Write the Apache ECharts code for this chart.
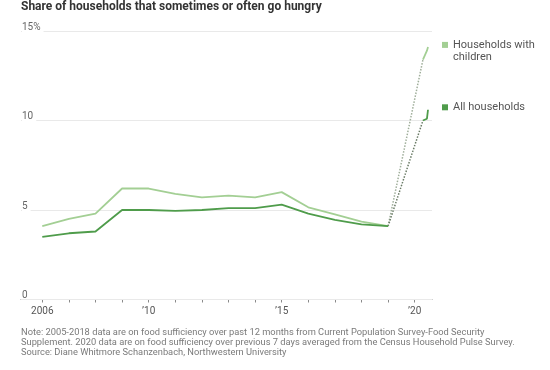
<!DOCTYPE html>
<html>
<head>
<meta charset="utf-8">
<script src="https://cdn.jsdelivr.net/npm/echarts@6/dist/echarts.min.js"></script>
<style>html,body{margin:0;padding:0;background:#fff}#c{width:550px;height:370px}</style>
</head>
<body>
<div id="c"></div>
<script>
var titleText = 'Share of households that sometimes or often go hungry';
var noteText = 'Note: 2005-2018 data are on food sufficiency over past 12 months from Current Population Survey-Food Security\nSupplement. 2020 data are on food sufficiency over previous 7 days averaged from the Census Household Pulse Survey.\nSource: Diane Whitmore Schanzenbach, Northwestern University';
var seriesNames = ['Households with children', 'All households'];
var legendLines = [['Households with', 'children'], ['All households']];

var years = [2006, 2007, 2008, 2009, 2010, 2011, 2012, 2013, 2014, 2015, 2016, 2017, 2018, 2019];
var childrenAnnual = [4.1, 4.5, 4.8, 6.2, 6.2, 5.9, 5.7, 5.8, 5.7, 6.0, 5.15, 4.75, 4.35, 4.1];
var allAnnual = [3.5, 3.7, 3.8, 5.0, 5.0, 4.95, 5.0, 5.1, 5.1, 5.3, 4.8, 4.45, 4.2, 4.1];

var pulseX = [2020.31, 2020.46, 2020.50];
var childrenPulse = [13.4, 13.9, 14.1];
var allPulse = [10.0, 10.1, 10.6];

var xTickValues = [2006, 2007, 2008, 2009, 2010, 2011, 2012, 2013, 2014, 2015, 2016, 2017, 2018, 2019, 2020];
var xLabelValues = [2006, 2010, 2015, 2020];
var xLabelText = {2006: '2006', 2010: '\u201910', 2015: '\u201915', 2020: '\u201920'};
var yLabelText = {0: '0', 5: '5', 10: '10', 15: '15%'};

var colChild = '#a3cf94';
var colAll = '#4f9c4b';
var dotChild = '#9fae9a';
var dotAll = '#6b7c67';

function pairs(xs, ys) { return xs.map(function (x, i) { return [x, ys[i]]; }); }

var chart = echarts.init(document.getElementById('c'));
var FONT = 'Roboto';
var LH = 12.6;
chart.setOption({
  animation: false,
  textStyle: { fontFamily: FONT },
  title: [
    { text: titleText, left: 21, top: 1, padding: 0,
      textStyle: { fontFamily: FONT, fontSize: 12, fontWeight: 'bold', color: '#333' } },
    { text: noteText, left: 21, top: 328, padding: 0,
      textStyle: { fontFamily: FONT, fontSize: 9.3, fontWeight: 'normal', color: '#7a7a7a', lineHeight: 9.8 } }
  ],
  legend: [
    { data: [seriesNames[0]], left: 442, top: 26, padding: 0, orient: 'vertical',
      icon: 'rect', itemWidth: 6, itemHeight: 6, itemGap: 0, selectedMode: false,
      formatter: function () { return '\u00a0\n' + legendLines[0].join('\n'); },
      textStyle: { fontFamily: FONT, fontSize: 11, color: '#555', lineHeight: LH } },
    { data: [seriesNames[1]], left: 442, top: 101, padding: 0, orient: 'vertical',
      icon: 'rect', itemWidth: 6, itemHeight: 6, itemGap: 0, selectedMode: false,
      formatter: function () { return legendLines[1][0]; },
      textStyle: { fontFamily: FONT, fontSize: 11, color: '#555', lineHeight: LH } }
  ],
  grid: { left: 21, right: 118, top: 31, bottom: 70.5, containLabel: false },
  xAxis: {
    type: 'value', min: 2005.2, max: 2020.65,
    splitLine: { show: false },
    axisLine: { lineStyle: { color: '#8a8a8a', width: 1 } },
    axisTick: { show: true, length: 3, customValues: xTickValues, lineStyle: { color: '#8a8a8a' } },
    axisLabel: { customValues: xLabelValues, margin: 7, fontSize: 10, color: '#555', fontFamily: FONT,
      formatter: function (v) { return xLabelText[v] || ''; } }
  },
  yAxis: {
    type: 'value', min: 0, max: 15, interval: 5,
    axisLine: { show: false }, axisTick: { show: false },
    splitLine: { lineStyle: { color: '#e9e9e9', width: 1 } },
    axisLabel: { inside: true, margin: 1, fontSize: 10, color: '#666', fontFamily: FONT,
      verticalAlign: 'middle', align: 'left', lineHeight: 10,
      formatter: function (v) { return v === 0 ? '{z|' + yLabelText[v] + '}' : '{g|' + yLabelText[v] + '}'; },
      rich: {
        g: { fontSize: 10, color: '#666', fontFamily: FONT, backgroundColor: '#fff', padding: [0, 3, 8, 0], lineHeight: 10 },
        z: { fontSize: 10, color: '#666', fontFamily: FONT, padding: [0, 3, 8, 0], lineHeight: 10 }
      }
    },
    z: 1
  },
  series: [
    { name: seriesNames[0], type: 'line', data: pairs(years, childrenAnnual), showSymbol: false,
      itemStyle: { color: colChild }, lineStyle: { color: colChild, width: 1.8 }, z: 3 },
    { name: seriesNames[1], type: 'line', data: pairs(years, allAnnual), showSymbol: false,
      itemStyle: { color: colAll }, lineStyle: { color: colAll, width: 1.8 }, z: 4 },
    { name: seriesNames[0], type: 'line', showSymbol: false,
      data: [[years[years.length - 1], childrenAnnual[childrenAnnual.length - 1]], [pulseX[0], childrenPulse[0]]],
      itemStyle: { color: colChild }, lineStyle: { color: dotChild, width: 1.5, type: 'dotted' }, z: 2 },
    { name: seriesNames[1], type: 'line', showSymbol: false,
      data: [[years[years.length - 1], allAnnual[allAnnual.length - 1]], [pulseX[0], allPulse[0]]],
      itemStyle: { color: colAll }, lineStyle: { color: dotAll, width: 1.5, type: 'dotted' }, z: 2 },
    { name: seriesNames[0], type: 'line', data: pairs(pulseX, childrenPulse), showSymbol: false,
      itemStyle: { color: colChild }, lineStyle: { color: colChild, width: 1.8 }, z: 3 },
    { name: seriesNames[1], type: 'line', data: pairs(pulseX, allPulse), showSymbol: false,
      itemStyle: { color: colAll }, lineStyle: { color: colAll, width: 1.8 }, z: 4 }
  ]
});
</script>
</body>
</html>
